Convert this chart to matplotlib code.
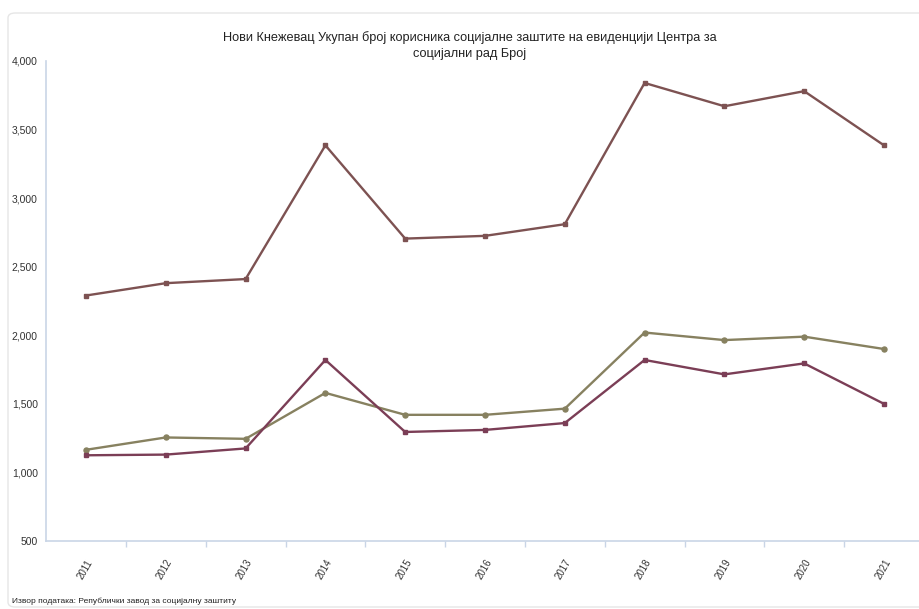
import matplotlib
matplotlib.use("Agg")
import matplotlib.pyplot as plt
from matplotlib.patches import FancyBboxPatch

years = ["2011", "2012", "2013", "2014", "2015", "2016", "2017", "2018", "2019", "2020", "2021"]
total = [2290, 2380, 2410, 3385, 2705, 2725, 2810, 3840, 3670, 3780, 3385]
series_green = [1165, 1255, 1245, 1580, 1420, 1420, 1465, 2020, 1965, 1990, 1900]
series_purple = [1125, 1130, 1175, 1820, 1295, 1310, 1360, 1820, 1715, 1795, 1500]
y_ticks = [500, 1000, 1500, 2000, 2500, 3000, 3500, 4000]

title = "Нови Кнежевац Укупан број корисника социјалне заштите на евиденцији Центра за\nсоцијални рад Број"
source = "Извор података: Републички завод за социјалну заштиту"

plt.rcParams["font.family"] = ["Liberation Sans", "DejaVu Sans"]

W, H = 919, 609
fig = plt.figure(figsize=(W / 100, H / 100), dpi=100)

# rounded container frame behind the chart
frame = FancyBboxPatch((8 / W, 2 / H), (W + 20 - 8) / W, (H - 15) / H,
                       boxstyle="round,pad=0,rounding_size=0.008",
                       transform=fig.transFigure, facecolor="white",
                       edgecolor="#e6e6e6", linewidth=1.0, zorder=-10)
fig.patches.append(frame)

x0_px, step_px = 86, 79.8
left_px = x0_px - 0.5 * step_px
right_px = W
ax = fig.add_axes([left_px / W, (H - 541) / H, (right_px - left_px) / W, (541 - 61) / H])
ax.set_facecolor("none")
ax.set_zorder(1)

x = list(range(len(years)))
ax.plot(x, total, color="#7d5252", lw=1.7, marker="s", ms=2.6, zorder=3)
ax.plot(x, series_green, color="#878160", lw=1.7, marker="o", ms=3.6, zorder=3)
ax.plot(x, series_purple, color="#7b3e56", lw=1.7, marker="s", ms=2.4, zorder=3)

ax.set_xlim(-0.5, (right_px - x0_px) / step_px)
ax.set_ylim(500, 4000)
ax.set_yticks(y_ticks)
ax.set_yticklabels([f"{v:,}" for v in y_ticks], fontsize=7.5, color="#333333")
ax.tick_params(axis="y", length=0, pad=6)

ax.set_xticks(x)
ax.set_xticklabels(years, rotation=60, fontsize=7, color="#333333", ha="right",
                   rotation_mode="anchor")
ax.tick_params(axis="x", which="major", length=0, pad=12)
# small separators below the axis between categories
ax.set_xticks([i + 0.5 for i in range(len(years) - 1)], minor=True)
ax.tick_params(axis="x", which="minor", direction="out", length=4,
               color="#c9d5e6", width=1)

for s in ["top", "right"]:
    ax.spines[s].set_visible(False)
for s in ["left", "bottom"]:
    ax.spines[s].set_color("#c9d5e6")
    ax.spines[s].set_linewidth(1.2)

fig.text(470 / W, 1 - 46 / H, title, ha="center", va="center", fontsize=9.2,
         color="#222222", linespacing=1.45)
fig.text(12 / W, 1 - 601 / H, source, ha="left", va="center", fontsize=6,
         color="#222222")

fig.savefig("out.png", dpi=100)
